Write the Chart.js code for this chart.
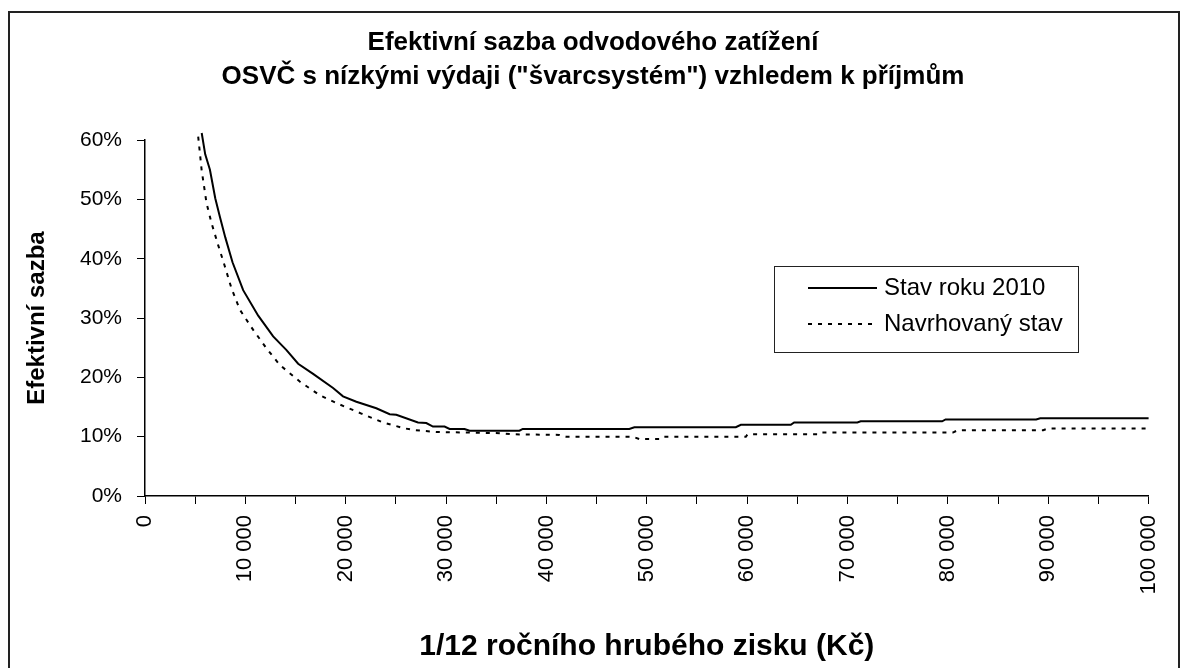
<!DOCTYPE html>
<html>
<head>
<meta charset="utf-8">
<script src="https://cdn.jsdelivr.net/npm/chart.js@4"></script>
<style>
html, body { margin: 0; padding: 0; background: #fff; overflow: hidden; }
#frame { position: absolute; left: 8px; top: 11px; width: 1168px; height: 700px; border: 2px solid #222; }
#efektivni_chart { position: absolute; left: 0; top: 0; }
</style>
</head>
<body>
<div id="frame"></div>
<canvas id="efektivni_chart" width="1186" height="668"></canvas>
<script>
// 1/12 rocniho hrubeho zisku (Kc) a efektivni sazba (%)
const prijem_2010 = [5650, 6000, 6470, 7000, 7460, 8000, 8720, 9780, 11280, 12770, 14100, 15260, 16750,
    18740, 19730, 21060, 23050, 24380, 25040, 27200, 28030, 28690, 29850, 30350, 31840, 32340, 37310,
    37640, 48260, 48760, 58870, 59370, 64350, 64680, 70980, 71310, 79430, 79770, 88800, 89200, 100000];
const sazba_2010 = [61.2, 57.6, 55.0, 50.2, 47.1, 43.6, 39.4, 34.7, 30.4, 26.9, 24.6, 22.3, 20.6,
    18.2, 16.8, 15.9, 14.8, 13.8, 13.7, 12.4, 12.3, 11.7, 11.7, 11.3, 11.3, 11.0, 11.0,
    11.3, 11.3, 11.6, 11.6, 12.0, 12.0, 12.4, 12.4, 12.6, 12.6, 12.9, 12.9, 13.1, 13.1];

const prijem_navrh = [5300, 5640, 6130, 6630, 7290, 7960, 8620, 9450, 10780, 12100, 13430, 15420, 17410,
    19300, 21560, 23710, 25870, 26870, 29020, 32010, 35320, 36650, 41290, 41960, 48590, 49250, 51240,
    51570, 59870, 60030, 67000, 67200, 80500, 81000, 89500, 90000, 100000];
const sazba_navrh = [60.6, 55.0, 49.4, 46.0, 42.3, 38.7, 35.0, 31.4, 28.0, 24.9, 22.1, 19.3, 17.0,
    15.5, 13.9, 12.4, 11.4, 11.1, 10.8, 10.7, 10.6, 10.4, 10.3, 10.0, 10.0, 9.6, 9.6,
    10.0, 10.0, 10.4, 10.4, 10.7, 10.7, 11.1, 11.1, 11.4, 11.4];

const series_names = ['Stav roku 2010', 'Navrhovaný stav'];
const chart_title = ['Efektivní sazba odvodového zatížení', 'OSVČ s nízkými výdaji ("švarcsystém") vzhledem k příjmům'];
const x_title = '1/12 ročního hrubého zisku (Kč)';
const y_title = 'Efektivní sazba';

const font_family = '"Liberation Sans", Arial, sans-serif';

function format_kc(v){
    return String(v).replace(/\B(?=(\d{3})+(?!\d))/g, ' ');
}

// legend in a box inside the plot, like the Excel original
const legend_box = {
    id: 'legend_box',
    afterDraw(chart){
        const ctx = chart.ctx;
        ctx.save();
        ctx.strokeStyle = '#222';
        ctx.lineWidth = 1;
        ctx.strokeRect(774.5, 266.5, 304, 86);
        chart.data.datasets.forEach((ds, i) => {
            const y = 288 + i * 36;
            ctx.beginPath();
            ctx.setLineDash(ds.borderDash || []);
            ctx.lineWidth = ds.borderWidth;
            ctx.strokeStyle = ds.borderColor;
            ctx.moveTo(808, y);
            ctx.lineTo(877, y);
            ctx.stroke();
            ctx.setLineDash([]);
            ctx.fillStyle = '#000';
            ctx.font = '24px ' + font_family;
            ctx.textBaseline = 'middle';
            ctx.fillText(ds.label, 884, y);
        });
        ctx.restore();
    }
};

const canvas = document.querySelector('#efektivni_chart');
const chart = new Chart(canvas.getContext('2d'), {
    type: 'line',
    data: {
        datasets: [{
            label: series_names[0],
            data: prijem_2010.map((x, i) => ({x: x, y: sazba_2010[i]})),
            borderColor: '#000',
            borderWidth: 2,
            pointRadius: 0,
            tension: 0,
            clip: false
        }, {
            label: series_names[1],
            data: prijem_navrh.map((x, i) => ({x: x, y: sazba_navrh[i]})),
            borderColor: '#000',
            borderWidth: 2,
            borderDash: [4, 6],
            pointRadius: 0,
            tension: 0,
            clip: false
        }]
    },
    options: {
        responsive: false,
        animation: false,
        layout: { padding: { top: 26, left: 10, right: 10, bottom: 0 } },
        plugins: {
            legend: { display: false },
            tooltip: { enabled: false },
            title: {
                display: true,
                text: chart_title,
                color: '#000',
                font: { family: font_family, size: 26, weight: 'bold', lineHeight: 1.31 },
                padding: { top: 0, bottom: 46 }
            }
        },
        scales: {
            x: {
                type: 'linear',
                min: 0,
                max: 100000,
                afterFit: (scale) => { scale.height = 172; },
                ticks: {
                    stepSize: 5000,
                    autoSkip: false,
                    minRotation: 90,
                    maxRotation: 90,
                    padding: 11,
                    color: '#000',
                    font: { family: font_family, size: 22 },
                    callback: (v) => v % 10000 === 0 ? format_kc(v) : ''
                },
                grid: { drawOnChartArea: false, tickLength: 8, color: '#000' },
                border: { color: '#000', width: 1.5 },
                title: {
                    display: true,
                    text: x_title,
                    color: '#000',
                    font: { family: font_family, size: 30, weight: 'bold' },
                    padding: { top: 0, bottom: 3 }
                }
            },
            y: {
                min: 0,
                max: 60,
                afterFit: (scale) => { scale.width = 135; },
                ticks: {
                    stepSize: 10,
                    padding: 15,
                    color: '#000',
                    font: { family: font_family, size: 21 },
                    callback: (v) => v + '%'
                },
                grid: { drawOnChartArea: false, tickLength: 8, color: '#000' },
                border: { color: '#000', width: 1.5 },
                title: {
                    display: true,
                    text: y_title,
                    color: '#000',
                    font: { family: font_family, size: 24, weight: 'bold' },
                    padding: { top: 12.6, bottom: 0 }
                }
            },
            spacer: {
                position: 'right',
                afterFit: (scale) => { scale.width = 26; },
                ticks: { display: false },
                grid: { display: false },
                border: { display: false }
            }
        }
    },
    plugins: [legend_box]
});
</script>
</body>
</html>
